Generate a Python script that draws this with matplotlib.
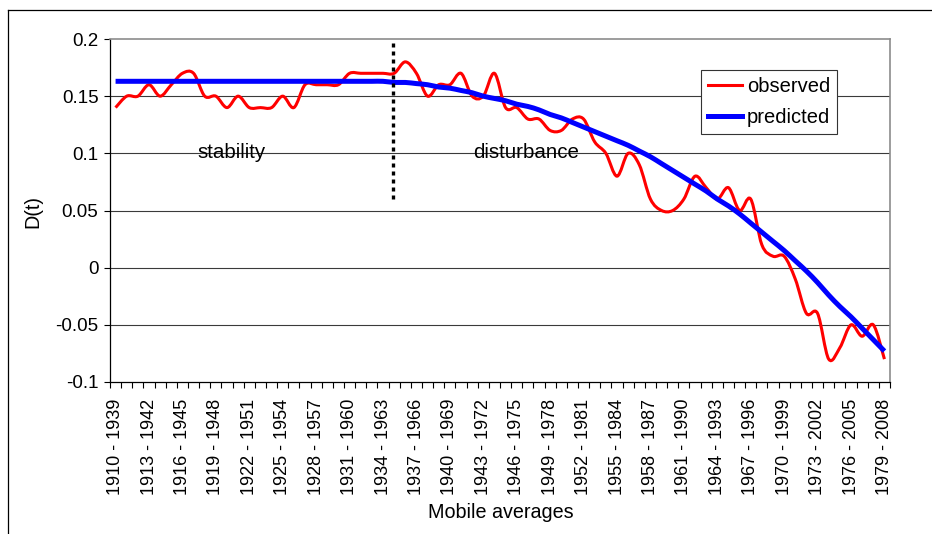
import matplotlib
matplotlib.use("Agg")
import matplotlib.pyplot as plt
from matplotlib.lines import Line2D
from matplotlib.path import Path
from matplotlib.patches import PathPatch

plt.rcParams['font.family'] = ['Liberation Sans', 'DejaVu Sans']

# 30-year mobile windows, 1910-1939 ... 1979-2008
start_years = list(range(1910, 1980))
categories = [f"{y} - {y + 29}" for y in start_years]

observed = [
    0.14, 0.15, 0.15, 0.16, 0.15, 0.16, 0.17, 0.17, 0.15, 0.15,
    0.14, 0.15, 0.14, 0.14, 0.14, 0.15, 0.14, 0.16, 0.16, 0.16,
    0.16, 0.17, 0.17, 0.17, 0.17, 0.17, 0.18, 0.17, 0.15, 0.16,
    0.16, 0.17, 0.15, 0.15, 0.17, 0.14, 0.14, 0.13, 0.13, 0.12,
    0.12, 0.13, 0.13, 0.11, 0.10, 0.08, 0.10, 0.09, 0.06, 0.05,
    0.05, 0.06, 0.08, 0.07, 0.06, 0.07, 0.05, 0.06, 0.02, 0.01,
    0.01, -0.01, -0.04, -0.04, -0.08, -0.07, -0.05, -0.06, -0.05, -0.08,
]

predicted = [
    0.163, 0.163, 0.163, 0.163, 0.163, 0.163, 0.163, 0.163, 0.163, 0.163,
    0.163, 0.163, 0.163, 0.163, 0.163, 0.163, 0.163, 0.163, 0.163, 0.163,
    0.163, 0.163, 0.163, 0.163, 0.163, 0.162, 0.162, 0.161, 0.160, 0.158,
    0.157, 0.155, 0.153, 0.150, 0.148, 0.146, 0.143, 0.141, 0.138, 0.134,
    0.131, 0.127, 0.123, 0.119, 0.115, 0.111, 0.107, 0.102, 0.097, 0.091,
    0.085, 0.079, 0.073, 0.067, 0.060, 0.054, 0.047, 0.039, 0.031, 0.023,
    0.015, 0.006, -0.003, -0.013, -0.024, -0.034, -0.043, -0.053, -0.063, -0.073,
]

yticks = [-0.1, -0.05, 0, 0.05, 0.1, 0.15, 0.2]
ytick_labels = ["-0.1", "-0.05", "0", "0.05", "0.1", "0.15", "0.2"]

# break between the two regimes (dotted marker)
break_pos = 24.9
break_range = (0.06, 0.2)


def smooth_path(xs, ys):
    # Excel-style smoothed line: cubic bezier segments through every data point
    verts = [(xs[0], ys[0])]
    codes = [Path.MOVETO]
    n = len(xs)
    for i in range(n - 1):
        x0, y0 = (xs[i - 1], ys[i - 1]) if i > 0 else (xs[i], ys[i])
        x1, y1 = xs[i], ys[i]
        x2, y2 = xs[i + 1], ys[i + 1]
        x3, y3 = (xs[i + 2], ys[i + 2]) if i + 2 < n else (x2, y2)
        verts += [(x1 + (x2 - x0) / 6, y1 + (y2 - y0) / 6),
                  (x2 - (x3 - x1) / 6, y2 - (y3 - y1) / 6),
                  (x2, y2)]
        codes += [Path.CURVE4] * 3
    return Path(verts, codes)


W, H = 932, 534
fig = plt.figure(figsize=(W / 100, H / 100), dpi=100, facecolor='white')
ax = fig.add_axes([110 / W, 152 / H, 780 / W, 343 / H])

x = list(range(len(categories)))

# gridlines
for v in yticks[1:-1]:
    ax.axhline(v, color='#3a3a3a', lw=0.8, zorder=1)

ax.add_patch(PathPatch(smooth_path(x, observed), facecolor='none', edgecolor='#ff0000',
                       lw=2.2, joinstyle='round', zorder=3))
ax.add_patch(PathPatch(smooth_path(x, predicted), facecolor='none', edgecolor='#0000ff',
                       lw=3.6, joinstyle='round', zorder=4))

# legend handles
ax.plot([], [], color='#ff0000', lw=2.2, label='observed')
ax.plot([], [], color='#0000ff', lw=3.6, label='predicted')

ax.plot([break_pos, break_pos], break_range, color='black', lw=2.4,
        linestyle=(0, (1.2, 1.2)), dash_capstyle='butt', zorder=5)

ax.text(10.4, 0.101, "stability", fontsize=14.8, ha='center', va='center', zorder=6)
ax.text(36.8, 0.101, "disturbance", fontsize=14.8, ha='center', va='center', zorder=6)

ax.set_xlim(-0.5, len(categories) - 0.5)
ax.set_ylim(-0.1, 0.2)

ax.set_yticks(yticks)
ax.set_yticklabels(ytick_labels)
ax.tick_params(axis='y', direction='out', length=4.3, width=0.8, pad=4,
               labelsize=13.5, color='black')

ax.set_xticks(x[::3])
ax.set_xticklabels(categories[::3], rotation=90)
ax.set_xticks([i - 0.5 for i in range(len(categories) + 1)], minor=True)
ax.tick_params(axis='x', which='major', length=0, pad=12, labelsize=13)
ax.tick_params(axis='x', which='minor', direction='out', length=4.3, width=0.8,
               color='black')

for side in ['left', 'bottom']:
    ax.spines[side].set_color('black')
    ax.spines[side].set_linewidth(0.9)
for side in ['top', 'right']:
    ax.spines[side].set_color('#8c8c8c')
    ax.spines[side].set_linewidth(1.2)

ax.set_xlabel("Mobile averages", fontsize=14.2, va='center')
ax.xaxis.set_label_coords((500.5 - 110) / 780, (382 - 512) / 343)
ax.set_ylabel("D(t)", fontsize=14.2, va='center')
ax.yaxis.set_label_coords((33 - 110) / 780, (382 - 212) / 343)

leg = ax.legend(loc='upper left', bbox_to_anchor=((700.7 - 110) / 780, (382 - 70) / 343),
                borderaxespad=0, fancybox=False, fontsize=14.5, handlelength=1.7,
                handletextpad=0.25, borderpad=0.35, labelspacing=0.6,
                framealpha=1, edgecolor='#333333')
leg.get_frame().set_linewidth(0.8)

# outer chart frame (left and top edges visible)
fig.add_artist(Line2D([8 / W, 8 / W], [0, 1 - 10 / H], transform=fig.transFigure,
                      color='black', lw=0.9))
fig.add_artist(Line2D([8 / W, 1], [1 - 10 / H, 1 - 10 / H], transform=fig.transFigure,
                      color='black', lw=0.9))

fig.savefig('out.png', dpi=100, facecolor='white')
